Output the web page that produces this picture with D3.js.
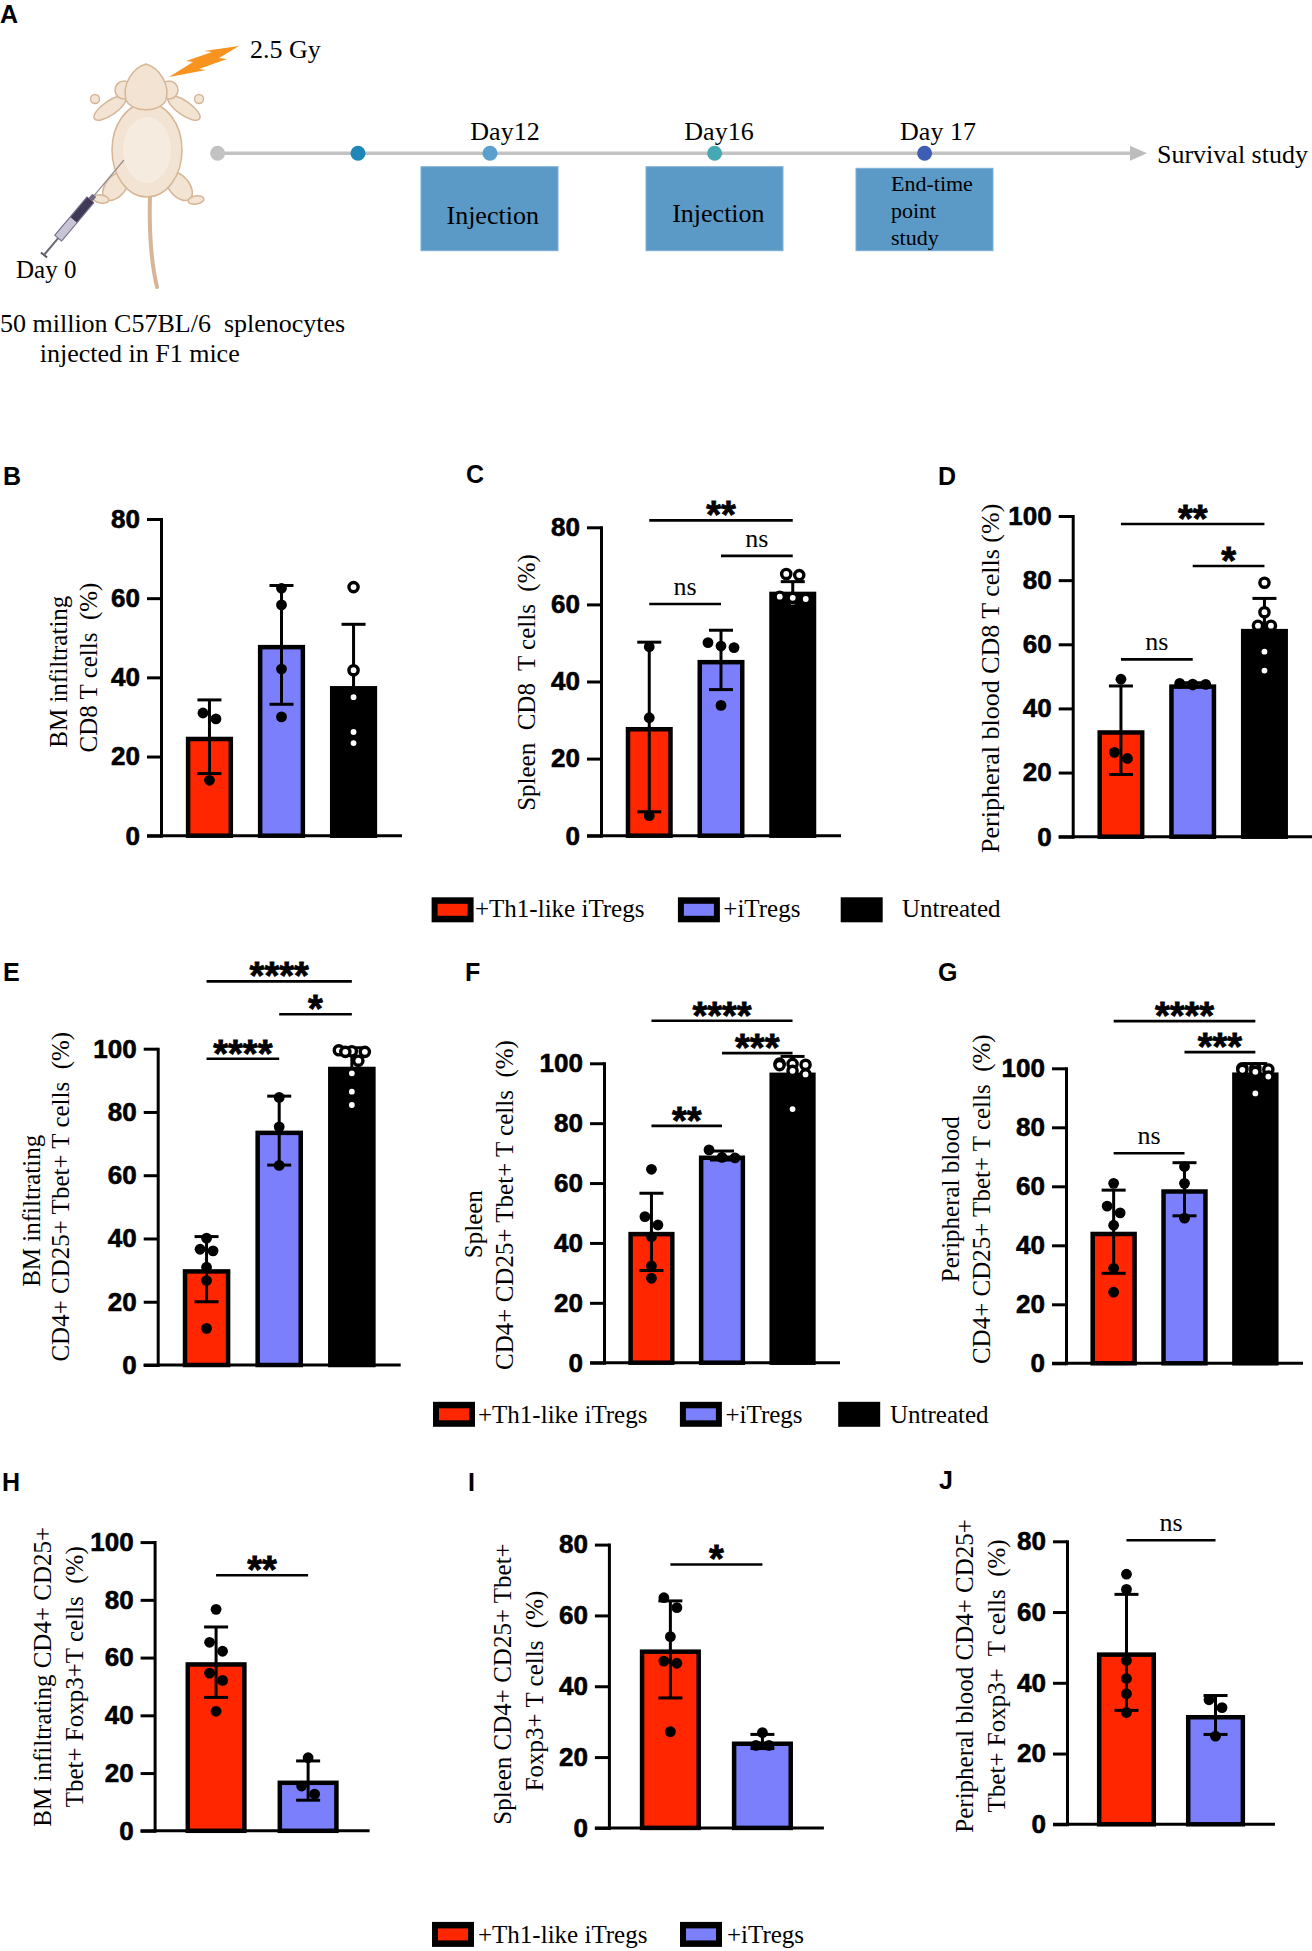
<!DOCTYPE html>
<html>
<head>
<meta charset="utf-8">
<script src="https://cdn.jsdelivr.net/npm/d3@7"></script>
<style>
  body { margin: 0; background: #fff; }
  text { white-space: pre; }
  .serif { font-family: "Liberation Serif", "Times New Roman", serif; }
  .sans { font-family: "Liberation Sans", Arial, sans-serif; font-weight: bold; }
</style>
</head>
<body>
<svg id="fig" width="1312" height="1951"></svg>
<script>
// ---- data ----
const groups = ["+Th1-like iTregs", "+iTregs", "Untreated"];
const timelineLabels = ["Day12", "Day16", "Day 17"];
const boxLabels = [["Injection"], ["Injection"], ["End-time", "point", "study"]];

// B: BM CD8
const bMeans = [25, 48.2, 37.8];
const bSD = [9.3, 15, 15.6];
const bPoints = [[31, 29.5, 14], [62.5, 58.3, 42.1, 30], [62.8, 41.8, 35, 26.2, 23.4]];
const bSig = [];
// C: spleen CD8
const cMeans = [28.2, 45.6, 63.3];
const cSD = [22, 7.7, 2.6];
const cPoints = [[49, 30.6, 5.2], [50.1, 49.2, 48.8, 33.8], [67.6, 67.9, 60.7, 62, 61.7, 61.4]];
const cSig = [[0, 2, "**", 81.8], [1, 2, "ns", 72.6], [0, 1, "ns", 60.1]];
// D: peripheral blood CD8
const dMeans = [33.2, 47.5, 64.8];
const dSD = [13.8, 0.5, 9.5];
const dPoints = [[49.1, 24.4, 26.3], [47.8, 47.5, 47.3, 47.6], [79.2, 70, 65.8, 65.8, 57.7, 51.8]];
const dSig = [[0, 2, "**", 97.5], [1, 2, "*", 84.4], [0, 1, "ns", 55.3]];
// E: BM CD4+CD25+Tbet+
const eMeans = [30.3, 74.1, 94.3];
const eSD = [10.3, 10.9, 6];
const ePoints = [[40.1, 36.6, 36.1, 30.9, 26.7, 11.6], [84.6, 75.3, 63.1], [99, 99.5, 96.2, 99.2, 99, 92.2, 86.4, 82.2]];
const eSig = [[0, 2, "****", 121.3], [1, 2, "*", 110.9], [0, 1, "****", 96.8]];
// F: spleen CD4+CD25+Tbet+
const fMeans = [43.7, 69.2, 96.9];
const fSD = [12.9, 1.5, 5.4];
const fPoints = [[64.6, 48.8, 46, 42.1, 32.3, 28.2], [71.1, 68.4, 68.6], [99.5, 99.8, 99.9, 99.4, 97.5, 96.3, 84.7]];
const fSig = [[0, 2, "****", 114.2], [1, 2, "***", 103.4], [0, 1, "**", 79.1]];
// G: peripheral blood CD4+CD25+Tbet+
const gMeans = [44.6, 59, 98.6];
const gSD = [14.1, 9, 3];
const gPoints = [[61, 53.3, 51, 46.8, 32.2, 24.1], [66.7, 61, 49.2], [100, 100, 99.5, 99.6, 98.8, 97.2, 91.5]];
const gSig = [[0, 2, "****", 116], [1, 2, "***", 105.5], [0, 1, "ns", 71.2]];
// H: BM Foxp3+
const hMeans = [58.4, 17.4];
const hSD = [12.2, 6.8];
const hPoints = [[76.7, 65.3, 62.2, 54.6, 52.1, 41.4], [25.3, 12.7, 15.5]];
const hSig = [[0, 1, "**", 88.5]];
// I: spleen Foxp3+
const iMeans = [50.4, 24.4];
const iSD = [13.7, 2];
const iPoints = [[65, 62.2, 54, 47.1, 46.5, 27.2], [26.9, 23.3, 23.3]];
const iSig = [[0, 1, "*", 74.4]];
// J: peripheral blood Foxp3+
const jMeans = [48.6, 30.9];
const jSD = [16.4, 5.5];
const jPoints = [[70.7, 66.4, 46.3, 41.2, 36.9, 31.6], [35.2, 33, 24.9]];
const jSig = [[0, 1, "ns", 80.3]];

// ---- drawing ----
const colors = ["#ff2600", "#7b7ffb", "#000000"];
const svg = d3.select("#fig");

// panel layout (pixel positions of each axis frame)
const panels = [
  {means: bMeans, sd: bSD, pts: bPoints, sig: bSig, max: 80, ax: 161, w: 241, y0: 835.7, yTop: 519,
   label: ["BM infiltrating", "CD8 T cells  (%)"], lx: [58, 88], ly: [671.7, 667.5], fs: 25},
  {means: cMeans, sd: cSD, pts: cPoints, sig: cSig, max: 80, ax: 601, w: 240, y0: 835.7, yTop: 527.3,
   label: ["Spleen  CD8  T cells  (%)"], lx: [526.7], ly: [682.5], fs: 25},
  {means: dMeans, sd: dSD, pts: dPoints, sig: dSig, max: 100, ax: 1072.7, w: 240, y0: 836.7, yTop: 516,
   label: ["Peripheral blood CD8 T cells (%)"], lx: [990.8], ly: [678.3], fs: 26},
  {means: eMeans, sd: eSD, pts: ePoints, sig: eSig, max: 100, ax: 157.7, w: 243, y0: 1365, yTop: 1048.7,
   label: ["BM infiltrating", "CD4+ CD25+ Tbet+ T cells  (%)"], lx: [31.7, 60.8], ly: [1210.8, 1196.7], fs: 25},
  {means: fMeans, sd: fSD, pts: fPoints, sig: fSig, max: 100, ax: 604, w: 236, y0: 1362.7, yTop: 1063.3,
   label: ["Spleen", "CD4+ CD25+ Tbet+ T cells  (%)"], lx: [473.3, 504.2], ly: [1224.2, 1205], fs: 25},
  {means: gMeans, sd: gSD, pts: gPoints, sig: gSig, max: 100, ax: 1066, w: 237, y0: 1363.3, yTop: 1068.3,
   label: ["Peripheral blood", "CD4+ CD25+ Tbet+ T cells  (%)"], lx: [950, 981.7], ly: [1199.2, 1199.2], fs: 25},
  {means: hMeans, sd: hSD, pts: hPoints, sig: hSig, max: 100, ax: 154.6, w: 215, y0: 1830.8, yTop: 1542.1,
   label: ["BM infiltrating CD4+ CD25+", "Tbet+ Foxp3+T cells  (%)"], lx: [42.9, 74.1], ly: [1676.8, 1676.8], fs: 25},
  {means: iMeans, sd: iSD, pts: iPoints, sig: iSig, max: 80, ax: 608.9, w: 215, y0: 1827.9, yTop: 1544.6,
   label: ["Spleen CD4+ CD25+ Tbet+", "Foxp3+ T cells  (%)"], lx: [502.7, 534.8], ly: [1684, 1691], fs: 25},
  {means: jMeans, sd: jSD, pts: jPoints, sig: jSig, max: 80, ax: 1067, w: 208, y0: 1824.3, yTop: 1541.3,
   label: ["Peripheral blood CD4+ CD25+", "Tbet+ Foxp3+  T cells  (%)"], lx: [964.6, 996.5], ly: [1675.9, 1675.9], fs: 25}
];

// spread points that sit at about the same height side by side, like Prism does
function swarm(vals, y, r, maxPerRow) {
  const order = vals.map((v, i) => i).sort((a, b) => vals[b] - vals[a]);
  const off = new Array(vals.length).fill(0);
  let rows = [], cur = [];
  order.forEach(i => {
    if (cur.length && (Math.abs(y(vals[i]) - y(vals[cur[0]])) >= 2 * r || cur.length >= maxPerRow)) {
      rows.push(cur); cur = [];
    }
    cur.push(i);
  });
  if (cur.length) rows.push(cur);
  rows.forEach(row => {
    row.forEach((i, k) => { off[i] = (k - (row.length - 1) / 2) * (2 * r + 2); });
  });
  return off;
}

function drawPanel(p) {
  const g = svg.append("g");
  const n = p.means.length;
  const pad = n == 3 ? 0.345 : 0.336;
  const x = d3.scaleBand().domain(d3.range(n)).range([p.ax, p.ax + p.w]).paddingInner(pad).paddingOuter(pad);
  const y = d3.scaleLinear().domain([0, p.max]).range([p.y0, p.yTop]);
  const bw = x.bandwidth();

  // bars
  const bs = 4.5;
  g.selectAll("rect.bar").data(p.means).enter().append("rect")
    .attr("class", "bar")
    .attr("x", (d, i) => x(i) + bs / 2)
    .attr("y", d => y(d) + bs / 2)
    .attr("width", bw - bs)
    .attr("height", d => p.y0 - y(d) - bs / 2)
    .attr("fill", (d, i) => colors[i])
    .attr("stroke", "#000")
    .attr("stroke-width", bs);

  // error bars (mean +/- SD)
  p.means.forEach((m, i) => {
    const cx = x(i) + bw / 2;
    const lo = y(Math.max(0, m - p.sd[i])), hi = y(m + p.sd[i]);
    g.append("line").attr("x1", cx).attr("x2", cx).attr("y1", lo).attr("y2", hi)
      .attr("stroke", "#000").attr("stroke-width", 3);
    [lo, hi].forEach(yy => {
      g.append("line").attr("x1", cx - 12).attr("x2", cx + 12).attr("y1", yy).attr("y2", yy)
        .attr("stroke", "#000").attr("stroke-width", 3);
    });
  });

  // individual mice
  p.pts.forEach((vals, i) => {
    const cx = x(i) + bw / 2;
    const off = swarm(vals, y, 5.5, Math.floor(bw / 12.5));
    g.selectAll(null).data(vals).enter().append("circle")
      .attr("cx", (d, k) => cx + off[k])
      .attr("cy", d => y(d))
      .attr("r", i == 2 ? 4.6 : 5.4)
      .attr("fill", i == 2 ? "#fff" : "#000")
      .attr("stroke", "#000")
      .attr("stroke-width", i == 2 ? 3.4 : 0);
  });

  // y axis
  const yAxis = d3.axisLeft(y).tickValues(d3.range(0, p.max + 1, 20))
    .tickSize(14).tickSizeOuter(0).tickPadding(7).tickFormat(d3.format("d"));
  g.append("g").attr("transform", `translate(${p.ax},0)`).call(yAxis)
    .call(a => {
      a.select(".domain").attr("stroke-width", 3).attr("stroke-linecap", "square");
      a.selectAll(".tick line").attr("stroke-width", 3);
      a.selectAll(".tick text").attr("class", "sans").style("font-size", "26px")
        .attr("fill", "#000").attr("stroke", "#000").attr("stroke-width", 0.6);
    });
  // x axis baseline
  g.append("line").attr("x1", p.ax - 14).attr("x2", p.ax + p.w).attr("y1", p.y0).attr("y2", p.y0)
    .attr("stroke", "#000").attr("stroke-width", 3);

  // significance brackets
  p.sig.forEach(s => {
    const x1 = x(s[0]) + bw / 2, x2 = x(s[1]) + bw / 2, yy = y(s[3]);
    g.append("line").attr("x1", x1).attr("x2", x2).attr("y1", yy).attr("y2", yy)
      .attr("stroke", "#000").attr("stroke-width", 2.6);
    const isNs = s[2] == "ns";
    g.append("text")
      .attr("class", isNs ? "serif" : "sans")
      .attr("x", (x1 + x2) / 2)
      .attr("y", isNs ? yy - 9 : yy + 8)
      .attr("text-anchor", "middle")
      .attr("stroke", isNs ? "none" : "#000")
      .attr("stroke-width", 0.8)
      .style("font-size", isNs ? "26px" : "38px")
      .text(s[2]);
  });

  // y label
  p.label.forEach((t, k) => {
    g.append("text").attr("class", "serif")
      .attr("transform", `translate(${p.lx[k]},${p.ly[k]}) rotate(-90)`)
      .attr("text-anchor", "middle")
      .attr("dominant-baseline", "central")
      .style("font-size", p.fs + "px")
      .text(t);
  });
}
panels.forEach(drawPanel);

// legends
function legend(boxX, textX, top, base, n) {
  d3.range(n).forEach(i => {
    svg.append("rect").attr("x", boxX[i]).attr("y", top).attr("width", 42).attr("height", 25)
      .attr("fill", "#000");
    if (i < 2) {
      svg.append("rect").attr("x", boxX[i] + 6).attr("y", top + 6.5).attr("width", 30).attr("height", 12)
        .attr("fill", colors[i]);
    }
    svg.append("text").attr("class", "serif").attr("x", textX[i]).attr("y", base)
      .style("font-size", "25px").text(groups[i]);
  });
}
legend([431.6, 677.9, 840.7], [475, 723.3, 902], 897.3, 916.7, 3);
legend([433, 679.9, 838.2], [478, 725.5, 890], 1401.8, 1423, 3);
legend([432, 680], [478, 727], 1921.9, 1942.6, 2);

// panel letters
[["A", 0, 23], ["B", 3, 485], ["C", 466, 483], ["D", 938, 485], ["E", 3, 981], ["F", 465, 981],
 ["G", 938, 981], ["H", 2, 1491], ["I", 468, 1491], ["J", 939, 1489]].forEach(l => {
  svg.append("text").attr("class", "sans").attr("x", l[1]).attr("y", l[2])
    .style("font-size", "25px").text(l[0]);
});

// ---- panel A: schematic ----
const tl = svg.append("g");
const lineY = 153.3;
tl.append("line").attr("x1", 217.6).attr("x2", 1133).attr("y1", lineY).attr("y2", lineY)
  .attr("stroke", "#c3c3c3").attr("stroke-width", 3.5);
tl.append("path").attr("d", `M1130,${lineY - 7.5}L1147,${lineY}L1130,${lineY + 7.5}Z`).attr("fill", "#bdbdbd");
const dotX = [217.6, 358, 490, 714.6, 924.6];
const dotC = ["#c2c2c2", "#1f86b8", "#5b9fcf", "#45a9b4", "#3e5eb3"];
tl.selectAll("circle").data(dotX).enter().append("circle")
  .attr("cx", d => d).attr("cy", lineY).attr("r", 7.5).attr("fill", (d, i) => dotC[i]);
const dayX = [505, 719, 938];
timelineLabels.forEach((t, i) => {
  tl.append("text").attr("class", "serif").attr("x", dayX[i]).attr("y", 140)
    .attr("text-anchor", "middle").style("font-size", "26px").text(t);
});
const boxX = [[421, 558], [646, 783], [856, 993]];
boxX.forEach((b, i) => {
  tl.append("rect").attr("x", b[0]).attr("y", i == 2 ? 168.3 : 166.7).attr("width", b[1] - b[0])
    .attr("height", i == 2 ? 82.4 : 84).attr("fill", "#5b9ac6").attr("stroke", "#7fb0d6").attr("stroke-width", 1);
});
tl.append("text").attr("class", "serif").attr("x", 492.7).attr("y", 224).attr("text-anchor", "middle")
  .style("font-size", "26px").text(boxLabels[0][0]);
tl.append("text").attr("class", "serif").attr("x", 718.4).attr("y", 222).attr("text-anchor", "middle")
  .style("font-size", "26px").text(boxLabels[1][0]);
boxLabels[2].forEach((t, k) => {
  tl.append("text").attr("class", "serif").attr("x", 891).attr("y", [190.7, 218.3, 245][k])
    .style("font-size", "22px").text(t);
});
tl.append("text").attr("class", "serif").attr("x", 1157).attr("y", 163.3).style("font-size", "26px").text("Survival study");
tl.append("text").attr("class", "serif").attr("x", 250).attr("y", 58).style("font-size", "26px").text("2.5 Gy");
tl.append("text").attr("class", "serif").attr("x", 16).attr("y", 278).style("font-size", "25px").text("Day 0");
tl.append("text").attr("class", "serif").attr("x", 0).attr("y", 331.7).style("font-size", "26px").text("50 million C57BL/6  splenocytes");
tl.append("text").attr("class", "serif").attr("x", 39.7).attr("y", 361.7).style("font-size", "26px").text("injected in F1 mice");

// lightning bolt
tl.append("path")
  .attr("d", "M239,46 L219,58 L227,59 L199,69 L206,70 L169,77 L193,62 L186,61 L212,52 L204,51 Z")
  .attr("fill", "#f7931e");

// mouse (simple drawing)
const fur = "#f2e3d3", furLine = "#d6b697";
const m = svg.append("g").attr("stroke", furLine).attr("stroke-width", 1.5).attr("fill", fur);
m.append("path").attr("d", "M150,195 C149,230 151,262 157,287").attr("fill", "none").attr("stroke-width", 4)
  .attr("stroke-linecap", "round");
m.append("ellipse").attr("rx", 10).attr("ry", 17).attr("transform", "translate(116,186) rotate(40)");
m.append("ellipse").attr("rx", 10).attr("ry", 17).attr("transform", "translate(179,186) rotate(-40)");
m.append("ellipse").attr("rx", 8).attr("ry", 4).attr("transform", "translate(101,199) rotate(10)");
m.append("ellipse").attr("rx", 8).attr("ry", 4).attr("transform", "translate(196,200) rotate(-10)");
m.append("ellipse").attr("rx", 7).attr("ry", 19).attr("transform", "translate(110,108) rotate(55)");
m.append("ellipse").attr("rx", 7).attr("ry", 19).attr("transform", "translate(184,108) rotate(-55)");
m.append("circle").attr("cx", 95).attr("cy", 99).attr("r", 4.5);
m.append("circle").attr("cx", 199).attr("cy", 99).attr("r", 4.5);
m.append("ellipse").attr("cx", 147).attr("cy", 150).attr("rx", 35).attr("ry", 47);
m.append("circle").attr("cx", 124).attr("cy", 90).attr("r", 9);
m.append("circle").attr("cx", 169).attr("cy", 90).attr("r", 9);
m.append("path").attr("d", "M146,64 C160,68 170,85 166,100 C160,113 132,113 126,100 C122,85 132,68 146,64 Z");
m.append("ellipse").attr("cx", 147).attr("cy", 150).attr("rx", 24).attr("ry", 33).attr("fill", "#f6ebdf").attr("stroke", "none");

// syringe
const syr = svg.append("g").attr("transform", "translate(44,255) rotate(-49.9)");
syr.append("line").attr("x1", 0).attr("x2", 0).attr("y1", -4).attr("y2", 4).attr("stroke", "#555").attr("stroke-width", 2);
syr.append("line").attr("x1", 0).attr("x2", 22).attr("y1", 0).attr("y2", 0).attr("stroke", "#6d6a78").attr("stroke-width", 2);
syr.append("rect").attr("x", 22).attr("y", -4.5).attr("width", 50).attr("height", 9).attr("fill", "#c9c3d6").attr("stroke", "#6f6884").attr("stroke-width", 1);
syr.append("rect").attr("x", 46).attr("y", -4).attr("width", 26).attr("height", 8).attr("fill", "#3f3857");
syr.append("rect").attr("x", 72).attr("y", -2.5).attr("width", 6).attr("height", 5).attr("fill", "#6f6884");
syr.append("line").attr("x1", 78).attr("x2", 124).attr("y1", 0).attr("y2", 0).attr("stroke", "#888").attr("stroke-width", 1.2);
</script>
</body>
</html>
